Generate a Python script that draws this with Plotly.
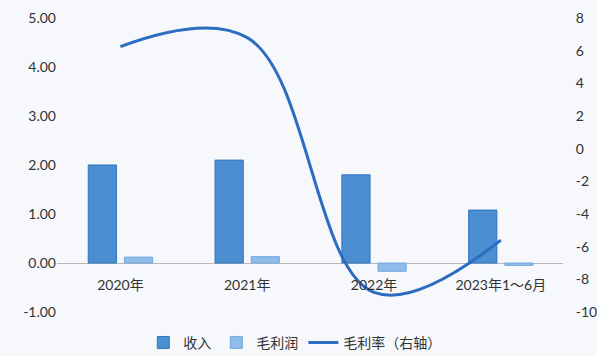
import plotly.graph_objects as go

categories = ["2020年", "2021年", "2022年", "2023年1～6月"]
revenue = [2.00, 2.10, 1.80, 1.08]
gross_profit = [0.12, 0.13, -0.17, -0.05]
gross_margin = [6.25, 6.8, -8.8, -5.6]

left_ticks = [-1, 0, 1, 2, 3, 4, 5]
right_ticks = [-10, -8, -6, -4, -2, 0, 2, 4, 6, 8]
left_labels = [f"{v:.2f}" for v in left_ticks]
right_labels = [str(v) for v in right_ticks]

FONT = "Lato, 'Noto Sans CJK SC', sans-serif"

fig = go.Figure()
fig.add_trace(go.Bar(x=categories, y=revenue, name="收入",
                     marker=dict(color="#4b8fd2", line=dict(color="#2f74bd", width=1))))
fig.add_trace(go.Bar(x=categories, y=gross_profit, name="毛利润",
                     marker=dict(color="#8fbce8", line=dict(color="#76aadf", width=1))))
fig.add_trace(go.Scatter(x=categories, y=gross_margin, name="毛利率（右轴）", yaxis="y2",
                         mode="lines", line=dict(color="#2b6dc0", width=3, shape="spline", smoothing=1.1)))

fig.update_layout(
    width=597, height=356,
    margin=dict(l=57, r=34, t=18, b=44, autoexpand=False),
    paper_bgcolor="#f6f8fb", plot_bgcolor="rgba(0,0,0,0)",
    font=dict(family=FONT, size=14, color="#333333"),
    barmode="group", bargap=0.43, bargroupgap=0.22,
    xaxis=dict(anchor="free", position=1/6, showline=False, ticks="outside", ticklen=9,
               tickcolor="rgba(0,0,0,0)", automargin=False,
               showgrid=False, range=[-0.5, 3.49], tickfont=dict(size=14)),
    yaxis=dict(range=[-1, 5], tickvals=left_ticks, ticktext=left_labels, automargin=False,
               showgrid=False, zeroline=True, zerolinecolor="#b8b8b8", zerolinewidth=1,
               showline=False, ticks="", tickfont=dict(size=14)),
    yaxis2=dict(range=[-10, 8], tickvals=right_ticks, ticktext=right_labels,
                overlaying="y", side="right",
                showgrid=False, zeroline=False, showline=False, ticks="outside", ticklen=9,
                tickcolor="rgba(0,0,0,0)", automargin=False,
                tickfont=dict(size=14)),
    legend=dict(orientation="h", x=0.47, xanchor="center", y=-0.105, yanchor="middle",
                font=dict(size=14), itemwidth=30, traceorder="normal"),
    showlegend=True,
)

fig.write_html("out.html", config={"displayModeBar": False},
               post_script="document.body.style.margin='0';document.body.style.overflow='hidden';")
